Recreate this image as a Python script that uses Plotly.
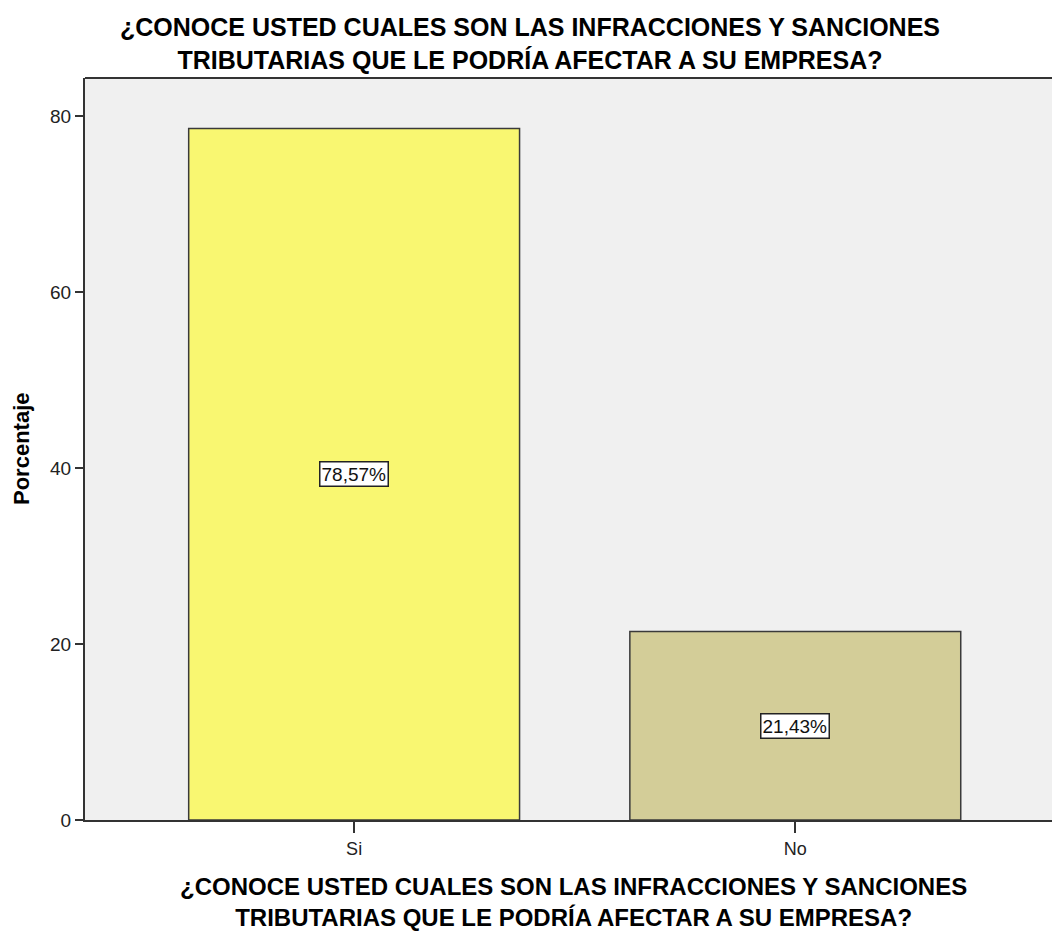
import plotly.graph_objects as go

categorias = ["Si", "No"]
porcentajes = [78.57, 21.43]
etiquetas = ["78,57%", "21,43%"]
colores = ["#f9f771", "#d3cd98"]
y_ticks = [0, 20, 40, 60, 80]

TITULO = ("<b>¿CONOCE USTED CUALES SON LAS INFRACCIONES Y SANCIONES<br>"
          "TRIBUTARIAS QUE LE PODRÍA AFECTAR A SU EMPRESA?</b>")
FUENTE = "Liberation Sans, Arial"

fig = go.Figure()
fig.add_trace(go.Bar(
    x=categorias, y=porcentajes, width=0.75,
    marker=dict(color=colores, line=dict(color="#3a3a3a", width=1.5)),
    hoverinfo="skip",
))

for cat, val, lbl in zip(categorias, porcentajes, etiquetas):
    fig.add_annotation(
        x=cat, y=val / 2, text=lbl, showarrow=False,
        font=dict(family=FUENTE, size=19, color="#111"),
        bgcolor="white", bordercolor="#222", borderwidth=1.5, borderpad=1,
    )

# titulo superior
fig.add_annotation(
    xref="paper", yref="paper", x=0.456, y=1, yshift=35, xanchor="center",
    yanchor="middle", text=TITULO, showarrow=False,
    font=dict(family=FUENTE, size=25, color="black"),
)
# titulo del eje x
fig.add_annotation(
    xref="paper", yref="paper", x=0.5015, y=0, yshift=-82, xanchor="center",
    yanchor="middle", text=TITULO, showarrow=False,
    font=dict(family=FUENTE, size=24, color="black"),
)
# titulo del eje y
fig.add_annotation(
    xref="paper", yref="paper", x=0, xshift=-64, y=0.5, xanchor="center",
    yanchor="middle", text="<b>Porcentaje</b>", showarrow=False, textangle=-90,
    font=dict(family=FUENTE, size=22, color="black"),
)

# la pagina tiene 8px de margen en el body: se compensa aqui
fig.update_layout(
    width=1052, height=929,
    margin=dict(l=77, r=0, t=70, b=117, autoexpand=False),
    paper_bgcolor="white", plot_bgcolor="#f0f0f0",
    showlegend=False,
    font=dict(family=FUENTE, color="black"),
)

fig.update_xaxes(
    range=[-0.61, 1.6], showgrid=False, zeroline=False, automargin=False,
    showline=True, linecolor="#333", linewidth=2,
    ticks="outside", ticklen=11, tickcolor="#333", tickwidth=1.5,
    tickfont=dict(family=FUENTE, size=18, color="#222"),
)
fig.update_yaxes(
    range=[0, 84.3], tickvals=y_ticks, showgrid=False, zeroline=False,
    automargin=False,
    showline=True, linecolor="#333", linewidth=2, mirror=False,
    ticks="outside", ticklen=8, tickcolor="#333", tickwidth=1.5,
    tickfont=dict(family=FUENTE, size=19, color="#222"),
)

# borde superior del marco
fig.add_shape(type="line", xref="paper", yref="paper", x0=0, x1=1, y0=1, y1=1,
              line=dict(color="#333", width=2))

fig.write_html("out.html")
